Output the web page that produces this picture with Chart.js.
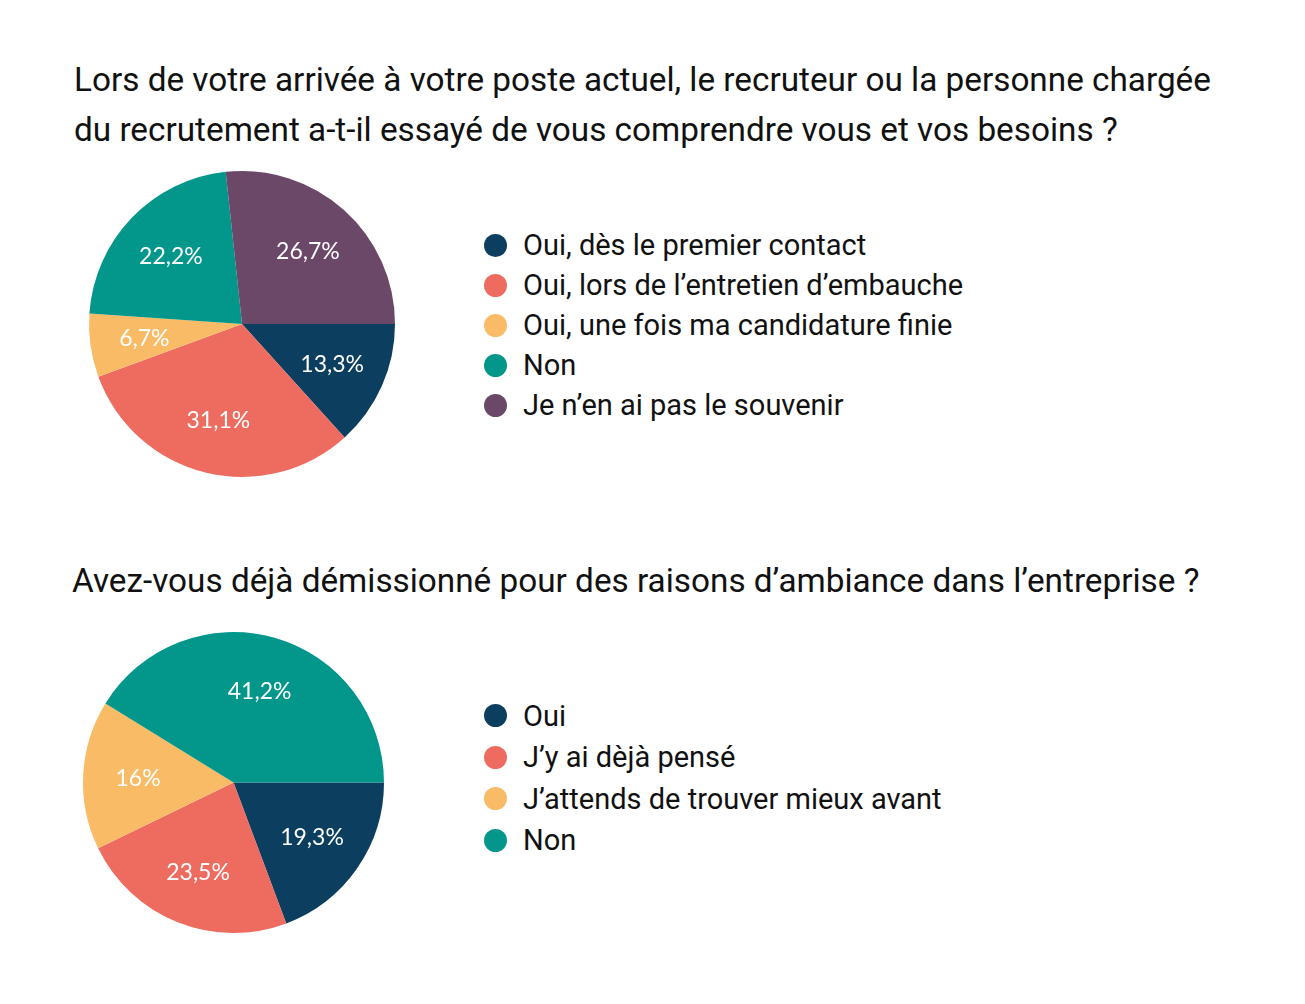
<!DOCTYPE html>
<html><head><meta charset="utf-8">
<script src="https://cdn.jsdelivr.net/npm/chart.js@4/dist/chart.umd.min.js"></script>
<style>
html,body{margin:0;padding:0;background:#fff;width:1305px;height:1004px;overflow:hidden;font-family:Roboto,sans-serif;color:#111;}
.title{position:absolute;font-size:33.3px;line-height:50px;white-space:nowrap;}
.pie{position:absolute;}
.legend{position:absolute;font-size:29px;}
.legend .row{display:flex;align-items:center;white-space:nowrap;}
.legend .dot{width:23px;height:23px;border-radius:50%;margin-right:16px;flex:none;}
</style></head><body>
<div class="title" id="t1" style="left:74px;top:55px;"></div>
<div class="pie" style="left:79px;top:161px;width:326px;height:326px;"><canvas id="c1"></canvas></div>
<div class="legend" id="l1" style="left:484px;top:225px;"></div>

<div class="title" id="t2" style="left:72px;top:556px;"></div>
<div class="pie" style="left:73px;top:622px;width:321px;height:321px;"><canvas id="c2"></canvas></div>
<div class="legend" id="l2" style="left:484px;top:695px;"></div>
<script>
const title1Lines = ["Lors de votre arrivée à votre poste actuel, le recruteur ou la personne chargée", "du recrutement a-t-il essayé de vous comprendre vous et vos besoins ?"];
const categories1 = ["Oui, dès le premier contact", "Oui, lors de l’entretien d’embauche", "Oui, une fois ma candidature finie", "Non", "Je n’en ai pas le souvenir"];
const values1 = [13.3, 31.1, 6.7, 22.2, 26.7];
const colors1 = ["#0b3e5f", "#ee6b60", "#f9bb66", "#03978b", "#6b4868"];

const title2Lines = ["Avez-vous déjà démissionné pour des raisons d’ambiance dans l’entreprise ?"];
const categories2 = ["Oui", "J’y ai dèjà pensé", "J’attends de trouver mieux avant", "Non"];
const values2 = [19.3, 23.5, 16, 41.2];
const colors2 = ["#0b3e5f", "#ee6b60", "#f9bb66", "#03978b"];

function fmt(v){ return String(v).replace('.', ',') + '%'; }

const labelPlugin = {
  id: 'sliceLabels',
  afterDatasetsDraw(chart, args, opts) {
    const ctx = chart.ctx;
    const meta = chart.getDatasetMeta(0);
    const data = chart.data.datasets[0].data;
    ctx.save();
    ctx.fillStyle = '#ffffff';
    ctx.font = '400 23px Lato, sans-serif';
    ctx.textAlign = 'center';
    ctx.textBaseline = 'middle';
    meta.data.forEach((arc, i) => {
      const p = arc.getProps(['x','y','startAngle','endAngle','outerRadius'], true);
      const mid = (p.startAngle + p.endAngle) / 2;
      const r = p.outerRadius * opts.factor;
      ctx.fillText(fmt(data[i]), p.x + Math.cos(mid) * r, p.y + Math.sin(mid) * r + 1);
    });
    ctx.restore();
  }
};

function makePie(id, cats, vals, cols, factor) {
  new Chart(document.getElementById(id), {
    type: 'pie',
    data: { labels: cats, datasets: [{ data: vals, backgroundColor: cols, borderWidth: 0, hoverOffset: 0 }] },
    options: {
      responsive: true, maintainAspectRatio: false, animation: false,
      rotation: 90,
      layout: { padding: 10 },
      plugins: { legend: { display: false }, tooltip: { enabled: false }, sliceLabels: { factor: factor } },
      events: []
    },
    plugins: [labelPlugin]
  });
}

function makeLegend(id, cats, cols, rowH) {
  const el = document.getElementById(id);
  cats.forEach((c, i) => {
    const row = document.createElement('div');
    row.className = 'row';
    row.style.height = rowH + 'px';
    const dot = document.createElement('span');
    dot.className = 'dot';
    dot.style.background = cols[i];
    const t = document.createElement('span');
    t.textContent = c;
    row.appendChild(dot); row.appendChild(t);
    el.appendChild(row);
  });
}

document.getElementById('t1').innerHTML = title1Lines.join('<br>');
document.getElementById('t2').innerHTML = title2Lines.join('<br>');
makePie('c1', categories1, values1, colors1, 0.645);
makePie('c2', categories2, values2, colors2, 0.635);
makeLegend('l1', categories1, colors1, 40);
makeLegend('l2', categories2, colors2, 41.5);
</script>
</body></html>
